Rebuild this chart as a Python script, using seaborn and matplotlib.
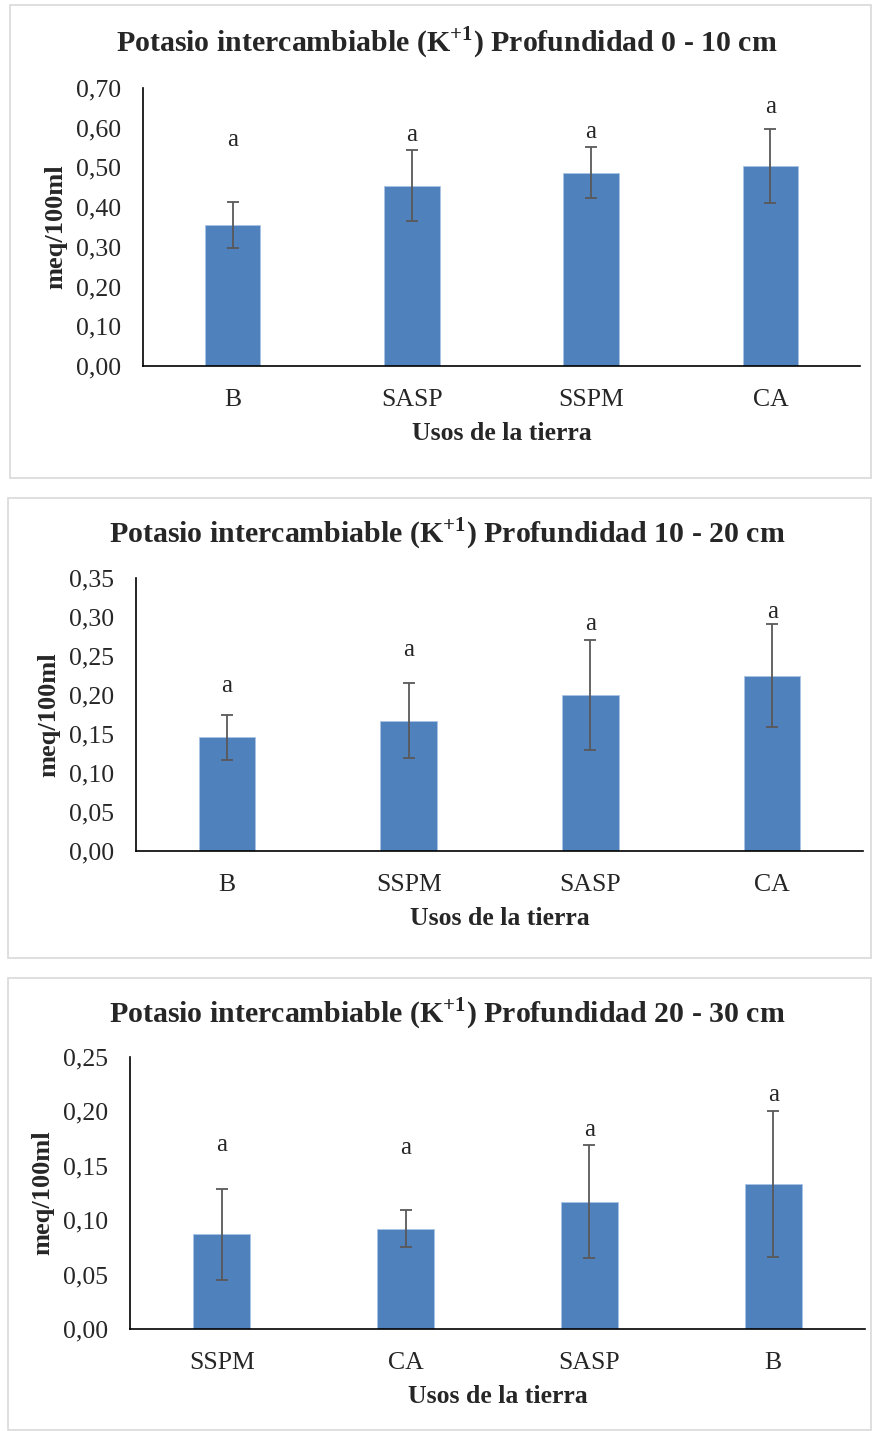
import matplotlib
matplotlib.use("Agg")
import matplotlib.pyplot as plt
import matplotlib.patches as patches
from matplotlib.ticker import FuncFormatter, FixedLocator
import seaborn as sns
import pandas as pd

# Data
cats_0_10 = ["B", "SASP", "SSPM", "CA"]
vals_0_10 = [0.355, 0.454, 0.487, 0.504]
err_0_10 = [0.057, 0.090, 0.065, 0.093]
lab_0_10 = [0.569, 0.582, 0.589, 0.652]

cats_10_20 = ["B", "SSPM", "SASP", "CA"]
vals_10_20 = [0.146, 0.167, 0.200, 0.225]
err_10_20 = [0.029, 0.048, 0.071, 0.066]
lab_10_20 = [0.212, 0.258, 0.291, 0.306]

cats_20_30 = ["SSPM", "CA", "SASP", "B"]
vals_20_30 = [0.087, 0.092, 0.117, 0.133]
err_20_30 = [0.042, 0.017, 0.052, 0.067]
lab_20_30 = [0.169, 0.166, 0.183, 0.215]

titles = ["0 - 10 cm", "10 - 20 cm", "20 - 30 cm"]
ymax = [0.70, 0.35, 0.25]
ystep = [0.10, 0.05, 0.05]

sns.set_style("white")
plt.rcParams["font.family"] = ["Liberation Serif", "DejaVu Serif"]
plt.rcParams["mathtext.fontset"] = "custom"
plt.rcParams["mathtext.rm"] = "Liberation Serif:bold"
plt.rcParams["mathtext.bf"] = "Liberation Serif:bold"

W, H = 872, 1431
fig = plt.figure(figsize=(W / 100, H / 100), dpi=100)
fig.patch.set_facecolor("white")

# pixel layout: axes (left, right, top, bottom), frame (left, top, right, bottom), title y
axes_px = [(143, 860, 88, 366), (136, 863, 578, 851), (130, 865, 1057, 1329)]
frame_px = [(10, 5, 871, 478), (8, 498, 871, 958), (8, 978, 871, 1430)]
title_y = [43, 534, 1014]

panels = [
    (cats_0_10, vals_0_10, err_0_10, lab_0_10),
    (cats_10_20, vals_10_20, err_10_20, lab_10_20),
    (cats_20_30, vals_20_30, err_20_30, lab_20_30),
]

for i, (cats, vals, errs, labs) in enumerate(panels):
    fl, ft, fr, fb = frame_px[i]
    fig.patches.append(patches.Rectangle((fl / W, 1 - fb / H), (fr - fl) / W, (fb - ft) / H,
                                         transform=fig.transFigure, fill=False,
                                         edgecolor="#d9d9d9", linewidth=1.2))
    l, r, t, b = axes_px[i]
    ax = fig.add_axes([l / W, 1 - b / H, (r - l) / W, (b - t) / H])
    df = pd.DataFrame({"uso": cats, "valor": vals})
    sns.barplot(data=df, x="uso", y="valor", color="#4f81bd", saturation=1,
                width=0.31, ax=ax)
    for p in ax.patches:
        p.set_edgecolor("#a9c3e6")
        p.set_linewidth(0.6)
    ax.errorbar(range(len(cats)), vals, yerr=errs, fmt="none", ecolor="#595959",
                elinewidth=1.3, capsize=4, capthick=1.3)
    for x, y in enumerate(labs):
        ax.text(x, y, "a", ha="center", va="center", fontsize=18)

    ax.set_xlim(-0.5, len(cats) - 0.5)
    ax.set_ylim(0, ymax[i])
    ax.set_yticks([k * ystep[i] for k in range(int(round(ymax[i] / ystep[i])) + 1)])
    ax.yaxis.set_major_formatter(FuncFormatter(lambda v, _: f"{v:.2f}".replace(".", ",")))
    ax.xaxis.set_minor_locator(FixedLocator([k - 0.5 for k in range(len(cats) + 1)]))
    ax.tick_params(axis="x", which="major", length=0, pad=16.5, labelsize=18.5)
    ax.tick_params(axis="x", which="minor", length=6, width=1.2, direction="out", color="black")
    ax.tick_params(axis="y", length=5, width=1.2, direction="out", color="black",
                   labelsize=18.5, pad=11)
    for s in ["top", "right"]:
        ax.spines[s].set_visible(False)
    for s in ["left", "bottom"]:
        ax.spines[s].set_color("black")
        ax.spines[s].set_linewidth(1.2)
    ax.set_xlabel("Usos de la tierra", fontsize=18.5, fontweight="bold", labelpad=8)
    ax.set_ylabel("meq/100ml", fontsize=19, fontweight="bold", labelpad=6)

    fig.text(447 / W, 1 - title_y[i] / H,
             "Potasio intercambiable (K$^{+1}$) Profundidad " + titles[i],
             ha="center", va="center", fontsize=21.5, fontweight="bold")

fig.savefig("out.png", dpi=100)
